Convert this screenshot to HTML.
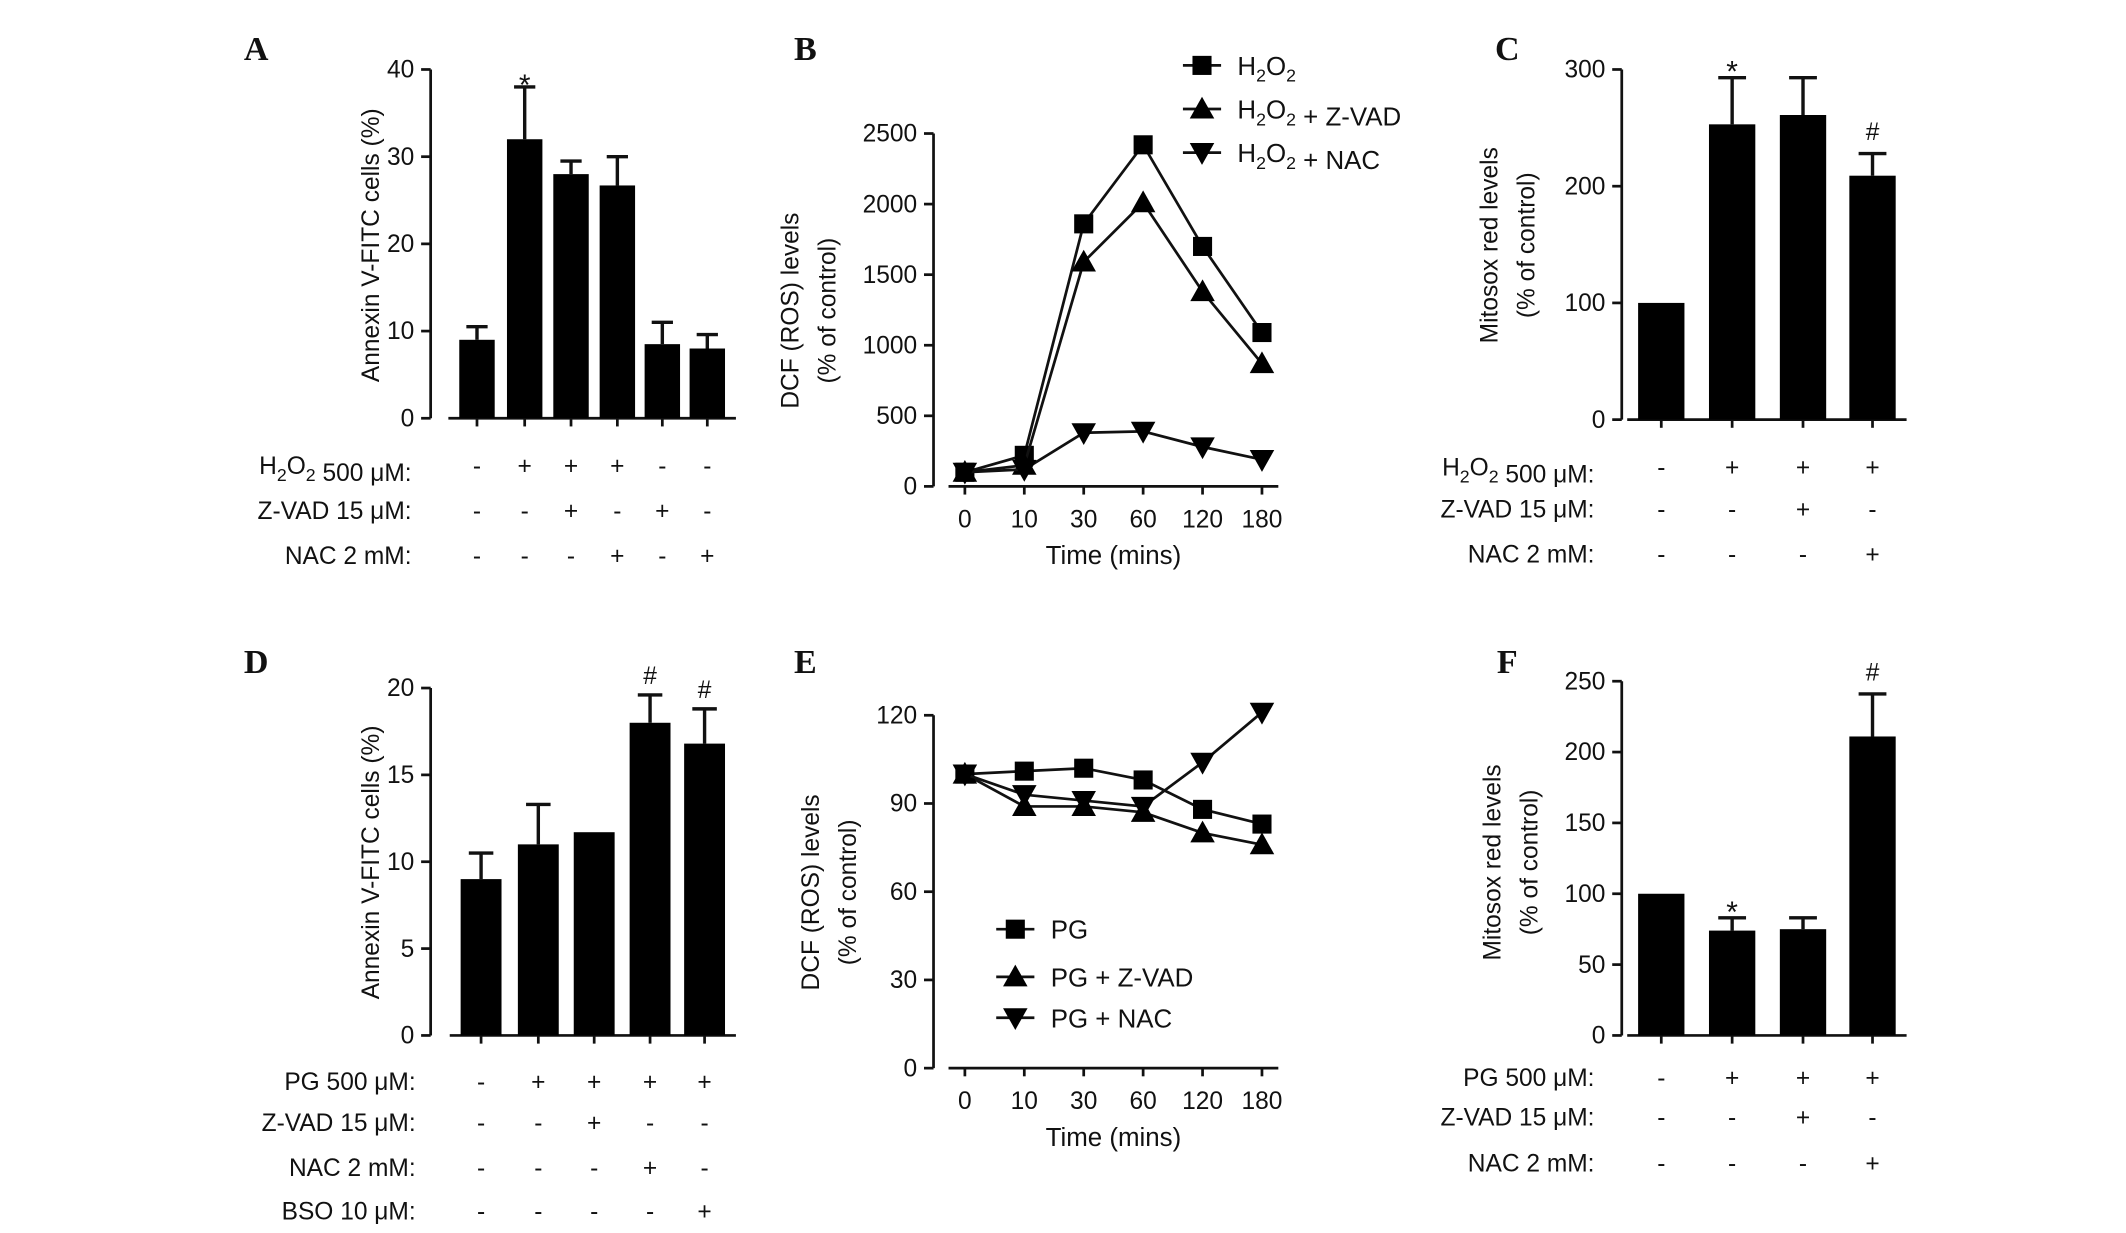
<!DOCTYPE html>
<html><head><meta charset="utf-8"><style>
html,body{margin:0;padding:0;background:#fff;}
svg{display:block;}
text{font-family:"Liberation Sans",sans-serif;fill:#111;}
.lt{font-family:"Liberation Serif",serif;font-weight:bold;font-size:25px;}
</style></head><body>
<svg id="fig" width="2126" height="1233" viewBox="0 0 1560 905" preserveAspectRatio="none" xmlns="http://www.w3.org/2000/svg"></svg>
<script>
// Panel A
const aValues=[9,32,28,26.7,8.5,8];
const aErrors=[10.5,38,29.5,30,11,9.6];
const aTicks=[0,10,20,30,40];
// Panel B
const timeCats=["0","10","30","60","120","180"];
const bH2O2=[100,220,1860,2420,1700,1090];
const bZvad=[100,150,1590,2010,1380,870];
const bNac=[100,120,380,390,280,190];
const bTicks=[0,500,1000,1500,2000,2500];
// Panel C
const cValues=[100,253,261,209];
const cErrors=[null,293,293,228];
const cTicks=[0,100,200,300];
// Panel D
const dValues=[9,11,11.7,18,16.8];
const dErrors=[10.5,13.3,null,19.6,18.8];
const dTicks=[0,5,10,15,20];
// Panel E
const ePG=[100,101,102,98,88,83];
const eZvad=[100,89,89,87,80,76];
const eNac=[100,93,91,89,104,121];
const eTicks=[0,30,60,90,120];
// Panel F
const fValues=[100,74,75,211];
const fErrors=[null,83,83,241];
const fTicks=[0,50,100,150,200,250];

const NS="http://www.w3.org/2000/svg";
const svg=document.getElementById('fig');
function el(tag,attrs,parent,txt){const e=document.createElementNS(NS,tag);for(const k in attrs)e.setAttribute(k,attrs[k]);if(txt!==undefined)e.textContent=txt;(parent||svg).appendChild(e);return e;}
function grp(name){const g=el('g',{});return g;}
function scale(d0,d1,r0,r1){return v=>r0+(v-d0)*(r1-r0)/(d1-d0);}

function yAxis(g,x,ys,ticks,max){
  el('line',{x1:x,y1:ys(0),x2:x,y2:ys(max),stroke:'#111','stroke-width':2},g);
  ticks.forEach(t=>{el('line',{x1:x-7,y1:ys(t),x2:x,y2:ys(t),stroke:'#111','stroke-width':2},g);
    const tx=el('text',{x:x-12,y:ys(t)+6,'text-anchor':'end','font-size':18},g,t);
    });
}
function yTitle(g,x,cy,lines){lines.forEach((s,i)=>{const t=el('text',{x:0,y:0,'font-size':18,'text-anchor':'middle',transform:`translate(${x+i*27},${cy}) rotate(-90)`},g,s);
  });}
function letter(x,y,s){const t=el('text',{x:x,y:y,class:'lt','text-anchor':'middle'},svg,s);}

function barPanel(name,cfg){
  const g=grp(name);
  const ys=scale(0,cfg.max,cfg.y0,cfg.yTop);
  yAxis(g,cfg.ax,ys,cfg.ticks,cfg.max);
  el('line',{x1:cfg.xs[0]-cfg.w/2-8,y1:cfg.y0,x2:cfg.xs[cfg.xs.length-1]+cfg.w/2+8,y2:cfg.y0,stroke:'#111','stroke-width':2},g);
  cfg.xs.forEach(c=>el('line',{x1:c,y1:cfg.y0,x2:c,y2:cfg.y0+6,stroke:'#111','stroke-width':2},g));
  cfg.values.forEach((v,i)=>{
    const x=cfg.xs[i];
    if(cfg.errors[i]!=null){const e=ys(cfg.errors[i]);
      el('line',{x1:x,y1:ys(v),x2:x,y2:e,stroke:'#111','stroke-width':2.5},g);
      el('line',{x1:x-cfg.w*0.3,y1:e,x2:x+cfg.w*0.3,y2:e,stroke:'#111','stroke-width':2.5},g);}
    const r=el('rect',{x:x-cfg.w/2,y:ys(v),width:cfg.w,height:cfg.y0-ys(v),fill:'#000'},g);
    
  });
  (cfg.marks||[]).forEach(m=>{const t=el('text',{x:cfg.xs[m[0]],y:ys(cfg.errors[m[0]])-m[2],'text-anchor':'middle','font-size':m[1]=='*'?22:18,'font-family':'Liberation Serif'},g,m[1]);
    });
  cfg.rows.forEach((r,ri)=>{
    const t=el('text',{x:cfg.lx,y:cfg.rowY[ri],'text-anchor':'end','font-size':18},g);
    
    t.innerHTML=r[0];
    r[1].forEach((s,i)=>el('text',{x:cfg.xs[i],y:cfg.rowY[ri],'text-anchor':'middle','font-size':18},g,s));
  });
  yTitle(g,cfg.tx,cfg.tcy,cfg.title);
}

function marker(g,type,x,y){
  if(type=='sq')return el('rect',{x:x-7,y:y-7,width:14,height:14,fill:'#000'},g);
  if(type=='up')return el('polygon',{points:`${x},${y-9} ${x+9},${y+7} ${x-9},${y+7}`,fill:'#000'},g);
  return el('polygon',{points:`${x},${y+9} ${x+9},${y-7} ${x-9},${y-7}`,fill:'#000'},g);
}
function linePanel(name,cfg){
  const g=grp(name);
  const ys=scale(0,cfg.max,cfg.y0,cfg.yTop);
  const xs=i=>cfg.x0+i*cfg.dx;
  yAxis(g,cfg.ax,ys,cfg.ticks,cfg.max);
  el('line',{x1:xs(0)-12,y1:cfg.y0,x2:xs(timeCats.length-1)+12,y2:cfg.y0,stroke:'#111','stroke-width':2},g);
  timeCats.forEach((c,i)=>{el('line',{x1:xs(i),y1:cfg.y0,x2:xs(i),y2:cfg.y0+6,stroke:'#111','stroke-width':2},g);
    el('text',{x:xs(i),y:cfg.y0+30,'text-anchor':'middle','font-size':18},g,c);});
  const xt=el('text',{x:(xs(0)+xs(5))/2,y:cfg.y0+57,'text-anchor':'middle','font-size':19},g,'Time (mins)');
  
  cfg.series.forEach((s,si)=>{
    const pts=s.data.map((v,i)=>xs(i)+','+ys(v)).join(' ');
    const l=el('polyline',{points:pts,fill:'none',stroke:'#111','stroke-width':2},g);
    
    s.data.forEach((v,i)=>marker(g,s.m,xs(i),ys(v)));
    const lx=cfg.legX, ly=cfg.legY[si];
    el('line',{x1:lx-14,y1:ly,x2:lx+14,y2:ly,stroke:'#111','stroke-width':2},g);
    marker(g,s.m,lx,ly);
    const t=el('text',{x:lx+26,y:ly+7,'font-size':19},g);t.innerHTML=s.label;
    
  });
  yTitle(g,cfg.tx,cfg.tcy,['DCF (ROS) levels','(% of control)']);
}
const H2O2='H<tspan font-size="13" dy="5">2</tspan><tspan dy="-5">O</tspan><tspan font-size="13" dy="5">2</tspan><tspan dy="-5"></tspan>';
const mu='\u03bcM:';

letter(188,44,'A');letter(591,44,'B');letter(1106,44,'C');
letter(188,494,'D');letter(591,494,'E');letter(1106,494,'F');

barPanel('panel-a-annexin-chart',{ax:316,y0:307,yTop:51,max:40,ticks:aTicks,values:aValues,errors:aErrors,
  xs:[350,385,419,453,486,519],w:26,marks:[[1,'*',-6]],lx:302,rowY:[348,381,414],
  rows:[[H2O2+' 500 '+mu,['-','+','+','+','-','-']],['Z-VAD 15 '+mu,['-','-','+','-','+','-']],['NAC 2 mM:',['-','-','-','+','-','+']]],
  tx:278,tcy:180,title:['Annexin V-FITC cells (%)']});
barPanel('panel-c-mitosox-chart',{ax:1190,y0:308,yTop:51,max:300,ticks:cTicks,values:cValues,errors:cErrors,
  xs:[1219,1271,1323,1374],w:34,marks:[[1,'*',-3],[3,'#',10]],lx:1170,rowY:[349,380,413],
  rows:[[H2O2+' 500 '+mu,['-','+','+','+']],['Z-VAD 15 '+mu,['-','-','+','-']],['NAC 2 mM:',['-','-','-','+']]],
  tx:1099,tcy:180,title:['Mitosox red levels','(% of control)']});
barPanel('panel-d-annexin-chart',{ax:316,y0:760,yTop:505,max:20,ticks:dTicks,values:dValues,errors:dErrors,
  xs:[353,395,436,477,517],w:30,marks:[[3,'#',8],[4,'#',8]],lx:305,rowY:[800,830,863,895],
  rows:[['PG 500 '+mu,['-','+','+','+','+']],['Z-VAD 15 '+mu,['-','-','+','-','-']],['NAC 2 mM:',['-','-','-','+','-']],['BSO 10 '+mu,['-','-','-','-','+']]],
  tx:278,tcy:633,title:['Annexin V-FITC cells (%)']});
barPanel('panel-f-mitosox-chart',{ax:1190,y0:760,yTop:500,max:250,ticks:fTicks,values:fValues,errors:fErrors,
  xs:[1219,1271,1323,1374],w:34,marks:[[1,'*',-3],[3,'#',10]],lx:1170,rowY:[797,826,860],
  rows:[['PG 500 '+mu,['-','+','+','+']],['Z-VAD 15 '+mu,['-','-','+','-']],['NAC 2 mM:',['-','-','-','+']]],
  tx:1101,tcy:633,title:['Mitosox red levels','(% of control)']});

linePanel('panel-b-dcf-chart',{ax:685,y0:357,yTop:98,max:2500,ticks:bTicks,x0:708,dx:43.6,legX:882,legY:[48,80,112],tx:586,tcy:228,
  series:[{data:bH2O2,m:'sq',label:H2O2},{data:bZvad,m:'up',label:H2O2+' + Z-VAD'},{data:bNac,m:'dn',label:H2O2+' + NAC'}]});
linePanel('panel-e-dcf-chart',{ax:685,y0:784,yTop:525,max:120,ticks:eTicks,x0:708,dx:43.6,legX:745,legY:[682,717,747],tx:601,tcy:655,
  series:[{data:ePG,m:'sq',label:'PG'},{data:eZvad,m:'up',label:'PG + Z-VAD'},{data:eNac,m:'dn',label:'PG + NAC'}]});
</script>
</body></html>
